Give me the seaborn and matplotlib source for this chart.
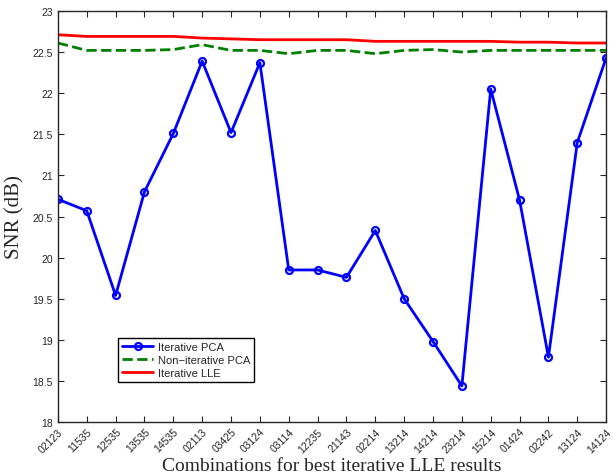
import matplotlib
matplotlib.use("Agg")
import matplotlib.pyplot as plt
import seaborn as sns
import numpy as np
import pandas as pd

# Data
combos = ["02123", "11535", "12535", "13535", "14535", "02113", "03425", "03124",
          "03114", "12235", "21143", "02214", "13214", "14214", "23214", "15214",
          "01424", "02242", "13124", "14124"]
iter_pca = [20.71, 20.57, 19.54, 20.80, 21.51, 22.39, 21.52, 22.37, 19.85, 19.85,
            19.76, 20.33, 19.50, 18.98, 18.44, 22.05, 20.70, 18.79, 21.40, 22.43]
noniter_pca = [22.61, 22.52, 22.52, 22.52, 22.53, 22.59, 22.52, 22.52, 22.48, 22.52,
               22.52, 22.48, 22.52, 22.53, 22.50, 22.52, 22.52, 22.52, 22.52, 22.52]
iter_lle = [22.71, 22.69, 22.69, 22.69, 22.69, 22.67, 22.66, 22.65, 22.65, 22.65,
            22.65, 22.63, 22.63, 22.63, 22.63, 22.63, 22.62, 22.62, 22.61, 22.61]

df = pd.DataFrame({"pos": np.arange(len(combos)), "combo": combos,
                   "pca": iter_pca, "npca": noniter_pca, "lle": iter_lle})

sns.set_style("ticks")
plt.rcParams["font.family"] = ["Liberation Sans", "DejaVu Sans"]

fig = plt.figure(figsize=(6.16, 4.77), dpi=100)
ax = fig.add_axes([0.094, 0.113, 0.890, 0.862])

sns.lineplot(data=df, x="pos", y="pca", ax=ax, color="#0000ff", lw=2, marker="o",
             markersize=5, markerfacecolor="none", markeredgecolor="#0000ff",
             markeredgewidth=1.6, label="Iterative PCA", sort=False)
sns.lineplot(data=df, x="pos", y="npca", ax=ax, color="#007f00", lw=2,
             linestyle="--", label="Non\u2212iterative PCA", sort=False)
sns.lineplot(data=df, x="pos", y="lle", ax=ax, color="#ff0000", lw=2,
             label="Iterative LLE", sort=False)

ax.set_xlim(0, len(combos) - 1)
ax.set_ylim(18, 23)
ax.set_xticks(df["pos"])
ax.set_xticklabels(combos, rotation=45, ha="right", va="top",
                   rotation_mode="anchor", fontsize=7.5)
ax.set_yticks(np.arange(18, 23.01, 0.5))
ax.set_yticklabels([f"{v:g}" for v in np.arange(18, 23.01, 0.5)], fontsize=7.5)
ax.tick_params(direction="in", top=True, right=True, length=4, width=0.8)
ax.tick_params(axis="x", pad=3)
for s in ax.spines.values():
    s.set_linewidth(1.0)

ax.set_xlabel("Combinations for best iterative LLE results", family="Liberation Serif",
              fontsize=14, labelpad=2)
ax.set_ylabel("SNR (dB)", family="Liberation Serif", fontsize=15, labelpad=6)

leg = ax.legend(loc="lower left", bbox_to_anchor=(0.1, 0.085), fontsize=8,
                fancybox=False, framealpha=1, edgecolor="black",
                borderpad=0.35, handlelength=2.8, handletextpad=0.4, labelspacing=0.25)
leg.get_frame().set_linewidth(1.0)

plt.savefig("out.png", dpi=100)
